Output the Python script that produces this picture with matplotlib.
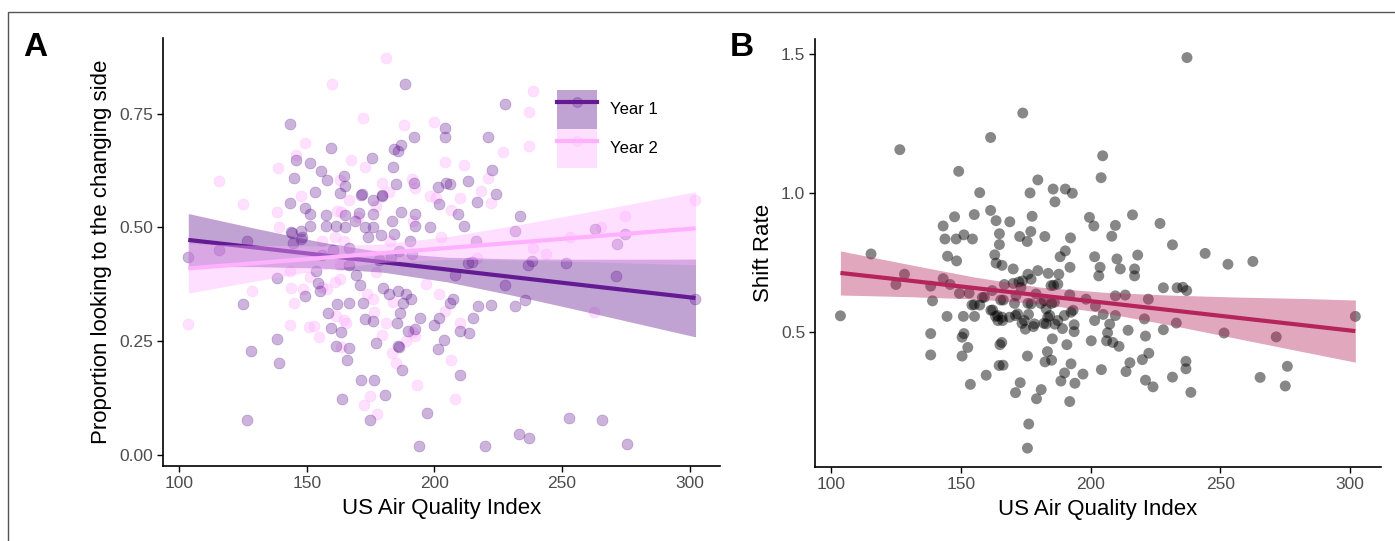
import matplotlib
matplotlib.use("Agg")
import matplotlib.pyplot as plt
from matplotlib.patches import Patch, Rectangle
from matplotlib.lines import Line2D

plt.rcParams['font.family'] = ['Liberation Sans', 'DejaVu Sans']

# ---------------- Panel A data ----------------
y1_pts = [
    (103.6,0.436),(115.8,0.451),(125.2,0.332),(126.6,0.078),(128.2,0.229),(126.8,0.471),
    (138.3,0.256),(139.2,0.202),(138.5,0.389),(143.3,0.728),(143.5,0.554),(144.4,0.488),
    (145.0,0.609),(145.7,0.648),(144.6,0.465),(144.0,0.490),(147.9,0.493),(147.9,0.474),
    (148.0,0.478),(149.5,0.543),(149.3,0.350),(151.4,0.530),(151.3,0.642),(151.2,0.504),
    (153.2,0.577),(153.8,0.404),(154.6,0.379),(155.4,0.623),(155.2,0.360),(157.4,0.527),
    (157.5,0.504),(157.9,0.605),(158.3,0.312),(159.4,0.279),(159.7,0.675),(161.3,0.504),
    (161.7,0.331),(161.6,0.240),(163.1,0.576),(163.3,0.271),(163.8,0.124),(164.7,0.612),
    (165.1,0.591),(165.1,0.527),(165.1,0.500),(165.9,0.208),(166.5,0.236),(166.4,0.333),
    (166.5,0.455),(166.5,0.418),(168.9,0.515),(169.2,0.395),(170.5,0.531),(171.0,0.374),
    (171.2,0.572),(171.7,0.573),(172.1,0.333),(171.2,0.164),(172.7,0.299),(172.7,0.502),
    (174.0,0.478),(174.9,0.077),(175.7,0.652),(175.9,0.561),(175.9,0.530),(176.0,0.295),
    (176.3,0.164),(177.0,0.246),(176.0,0.500),(178.4,0.429),(179.1,0.483),(179.3,0.570),
    (179.6,0.571),(179.9,0.368),(180.8,0.133),(182.2,0.354),(183.3,0.515),(183.8,0.632),
    (184.0,0.485),(184.9,0.596),(184.2,0.673),(185.8,0.668),(185.8,0.361),(185.9,0.239),
    (185.4,0.290),(186.4,0.312),(187.1,0.681),(187.1,0.533),(187.2,0.187),(187.9,0.335),
    (188.5,0.815),(189.0,0.354),(189.7,0.273),(190.5,0.470),(191.0,0.343),(191.9,0.698),
    (192.1,0.598),(192.4,0.530),(192.4,0.504),(192.3,0.276),(193.9,0.019),(194.2,0.301),
    (197.1,0.093),(198.2,0.500),(199.8,0.286),(201.6,0.234),(201.6,0.588),(202.0,0.552),
    (201.8,0.300),(203.7,0.253),(204.0,0.719),(204.0,0.698),(204.7,0.598),(206.0,0.595),
    (206.1,0.335),(207.2,0.342),(209.4,0.530),(209.9,0.175),(210.2,0.273),(211.5,0.504),
    (213.3,0.602),(213.4,0.269),(215.1,0.302),(216.9,0.555),(217.1,0.328),(219.8,0.019),
    (220.9,0.698),(222.3,0.330),(222.7,0.627),(224.1,0.573),(227.7,0.770),(227.6,0.374),
    (231.7,0.327),(231.7,0.493),(233.5,0.525),(233.1,0.047),(235.6,0.341),(236.7,0.418),
    (238.1,0.427),(237.1,0.038),(251.5,0.422),(252.9,0.081),(262.8,0.496),(265.5,0.077),
    (271.4,0.464),(271.3,0.394),(274.8,0.485),(275.4,0.025),(302.3,0.342),
    (155.8,0.440),(186.3,0.448),(191.4,0.442),(160.3,0.450),(183.1,0.436),(216.4,0.470),
    (207.9,0.395),(213.3,0.421),(214.7,0.425),(186.2,0.237),
]
y2_pts = [
    (103.6,0.287),(115.8,0.603),(125.2,0.552),(128.4,0.361),(138.5,0.534),(138.8,0.630),
    (139.2,0.500),(143.3,0.286),(143.4,0.405),(145.0,0.333),(144.0,0.368),(145.8,0.659),
    (147.7,0.570),(149.5,0.686),(148.6,0.365),(150.7,0.282),(151.2,0.390),(152.9,0.284),
    (154.7,0.260),(158.1,0.365),(160.0,0.815),(161.0,0.478),(161.8,0.537),(161.6,0.306),
    (162.9,0.387),(163.2,0.605),(163.3,0.534),(163.6,0.237),(164.6,0.297),(165.5,0.290),
    (167.5,0.648),(166.6,0.561),(171.9,0.740),(172.7,0.632),(172.3,0.109),(174.9,0.129),
    (177.7,0.091),(176.3,0.314),(179.5,0.263),(179.6,0.597),(180.9,0.871),(181.0,0.289),
    (182.3,0.577),(183.4,0.224),(183.8,0.337),(185.1,0.202),(188.0,0.725),(188.8,0.251),
    (191.4,0.606),(192.4,0.587),(192.3,0.262),(193.2,0.153),(196.9,0.376),(198.2,0.568),
    (199.8,0.732),(200.7,0.564),(201.8,0.354),(204.0,0.643),(204.1,0.316),(206.4,0.539),
    (206.7,0.208),(208.2,0.124),(209.9,0.290),(210.2,0.564),(211.5,0.637),(218.4,0.580),
    (220.9,0.609),(222.3,0.553),(226.9,0.666),(237.1,0.754),(237.1,0.678),(238.5,0.800),
    (243.9,0.442),(253.0,0.480),(262.5,0.315),(265.4,0.500),(274.6,0.524),(302.0,0.561),
    (155.8,0.369),(161.2,0.380),(173.7,0.354),(176.0,0.342),(191.7,0.271),(216.9,0.433),
    (182.7,0.470),(170.1,0.523),(177.3,0.546),(191.7,0.515),(155.8,0.470),(163.0,0.418),
    (177.3,0.403),(202.5,0.478),(238.5,0.455),(164.6,0.470),
]
aqi_y1 = [p[0] for p in y1_pts]
prop_y1 = [p[1] for p in y1_pts]
aqi_y2 = [p[0] for p in y2_pts]
prop_y2 = [p[1] for p in y2_pts]

# Fitted lines and confidence bands
fitA_x  = [103.6, 130, 155, 180, 205, 230, 255, 280, 302.3]
fit1_y  = [0.4725,0.4558,0.4397,0.4236,0.4075,0.3914,0.3753,0.3592,0.3450]
fit1_lo = [0.4145,0.4138,0.4109,0.4016,0.3804,0.3517,0.3205,0.2883,0.2596]
fit1_hi = [0.5305,0.4978,0.4685,0.4456,0.4346,0.4311,0.4301,0.4301,0.4304]
fit2_y  = [0.4100,0.4215,0.4326,0.4437,0.4548,0.4659,0.4770,0.4881,0.4979]
fit2_lo = [0.3556,0.3823,0.4060,0.4236,0.4299,0.4289,0.4256,0.4215,0.4176]
fit2_hi = [0.4644,0.4607,0.4592,0.4638,0.4797,0.5029,0.5284,0.5547,0.5782]

# ---------------- Panel B data ----------------
b_pts = [
    (103.5,0.557),(115.3,0.780),(126.4,1.156),(124.9,0.670),(128.2,0.707),(138.3,0.493),
    (138.3,0.416),(139.0,0.611),(138.3,0.664),(143.1,0.881),(143.8,0.834),(144.8,0.772),
    (144.6,0.555),(143.1,0.691),(145.8,0.670),(147.5,0.914),(148.1,0.834),(148.3,0.755),
    (149.1,1.078),(149.4,0.638),(151.1,0.849),(150.9,0.555),(150.4,0.480),(151.1,0.493),
    (150.4,0.412),(152.6,0.443),(153.1,0.639),(154.4,0.834),(155.1,0.922),(154.2,0.596),
    (155.2,0.555),(153.6,0.310),(157.2,1.001),(157.2,0.596),(158.2,0.623),(159.7,0.343),
    (161.4,1.200),(161.4,0.937),(161.5,0.577),(162.0,0.648),(163.0,0.777),(163.5,0.900),
    (163.5,0.747),(163.3,0.555),(164.2,0.540),(164.8,0.853),(164.8,0.814),(165.3,0.614),
    (165.0,0.453),(165.7,0.461),(164.7,0.378),(166.2,0.379),(165.8,0.739),(166.7,0.670),
    (165.8,0.552),(168.8,0.896),(168.7,0.552),(170.1,0.726),(170.1,0.674),(170.6,0.602),
    (171.0,0.280),(171.0,0.558),(172.6,0.843),(172.8,0.316),(172.3,0.679),(173.8,1.288),
    (173.5,0.530),(174.8,0.509),(175.5,0.825),(175.8,0.707),(175.8,0.602),(176.0,0.562),
    (175.6,0.412),(176.1,0.167),(175.6,0.080),(176.6,1.000),(176.9,0.861),(177.4,0.916),
    (177.9,0.518),(179.1,0.258),(179.6,1.047),(179.6,0.720),(180.9,0.291),(180.8,0.602),
    (181.9,0.530),(182.3,0.843),(182.4,0.391),(183.3,0.428),(183.6,0.710),(184.2,0.558),
    (184.9,0.397),(184.9,0.602),(185.7,0.667),(185.2,0.474),(185.5,1.014),(186.2,0.968),
    (186.2,0.527),(187.7,0.707),(188.2,0.770),(188.5,0.322),(189.1,0.511),(190.2,0.791),
    (189.9,0.351),(190.2,1.014),(190.8,0.453),(191.9,0.633),(192.2,0.838),(192.0,0.732),
    (192.4,0.384),(191.9,0.248),(192.9,0.999),(193.2,0.577),(193.6,0.525),(193.9,0.314),
    (193.6,0.500),(197.0,0.347),(198.2,0.617),(199.5,0.912),(200.2,0.467),(201.2,0.881),
    (201.5,0.770),(201.5,0.540),(201.8,0.592),(203.6,0.732),(203.1,0.701),(204.0,1.055),
    (204.6,1.134),(204.1,0.363),(204.8,0.562),(206.1,0.467),(206.5,0.496),(207.3,0.527),
    (208.1,0.844),(208.5,0.461),(209.5,0.883),(209.5,0.629),(209.5,0.558),(210.1,0.762),
    (210.9,0.447),(211.4,0.726),(213.3,0.632),(213.6,0.356),(214.4,0.505),(215.1,0.388),
    (216.1,0.921),(216.9,0.726),(216.9,0.701),(218.1,0.776),(219.9,0.399),(220.7,0.546),
    (221.1,0.484),(221.1,0.325),(222.2,0.617),(222.4,0.422),(224.0,0.301),(226.7,0.890),
    (228.0,0.658),(228.0,0.507),(231.5,0.813),(231.5,0.336),(233.0,0.531),(233.3,0.658),
    (235.5,0.660),(236.7,0.393),(236.7,0.366),(237.0,0.648),(237.1,1.488),(238.6,0.281),
    (244.1,0.782),(251.4,0.495),(252.9,0.743),(262.5,0.753),(265.3,0.335),(271.5,0.481),
    (275.0,0.304),(275.8,0.375),(302.0,0.555),
    (164.1,0.558),(166.0,0.540),(171.8,0.564),(174.4,0.540),(178.3,0.528),(182.8,0.528),
    (183.4,0.552),(187.3,0.540),(189.8,0.558),(192.4,0.570),(177.0,0.600),(182.8,0.582),
    (186.0,0.606),(178.9,0.636),(182.1,0.612),(184.7,0.666),(187.3,0.671),(173.1,0.659),
    (173.7,0.683),(177.0,0.689),(171.2,0.630),(166.3,0.614),(162.2,0.578),(159.0,0.624),
    (155.1,0.597),
]
aqi_b = [p[0] for p in b_pts]
shift_b = [p[1] for p in b_pts]

fitB_x  = [103.5, 130, 155, 180, 205, 230, 255, 280, 302.0]
fitB_y  = [0.7115,0.6840,0.6575,0.6310,0.6046,0.5782,0.5517,0.5253,0.5020]
fitB_lo = [0.632,0.626,0.618,0.601,0.568,0.525,0.478,0.431,0.390]
fitB_hi = [0.791,0.742,0.697,0.661,0.642,0.632,0.625,0.620,0.614]

xticks = [100, 150, 200, 250, 300]
yticksA = [0.00, 0.25, 0.50, 0.75]
yticksB = [0.5, 1.0, 1.5]

C1 = '#641A93'
C2 = '#FFB0FF'
CB = '#B5245A'

W, H = 1395, 541
fig = plt.figure(figsize=(W/100, H/100), dpi=100)

def style(ax):
    for s in ['top', 'right']:
        ax.spines[s].set_visible(False)
    for s in ['left', 'bottom']:
        ax.spines[s].set_linewidth(1.2)
        ax.spines[s].set_color('black')
    ax.tick_params(axis='both', direction='out', length=4, width=1.0,
                   color='black', labelsize=12.5, labelcolor='#4D4D4D', pad=3)
    ax.set_xticks(xticks)
    ax.set_xlim(93.7, 311.9)
    ax.set_xlabel('US Air Quality Index', fontsize=16, labelpad=5)

# Panel A
axA = fig.add_axes([163/W, 1-466/H, (720-163)/W, (466-38)/H])
style(axA)
axA.scatter(aqi_y2, prop_y2, s=62, color=C2, alpha=0.38, edgecolors=C2, linewidths=0.5, zorder=2)
axA.scatter(aqi_y1, prop_y1, s=62, color=C1, alpha=0.33, edgecolors=C1, linewidths=0.5, zorder=2)
axA.fill_between(fitA_x, fit1_lo, fit1_hi, color=C1, alpha=0.4, linewidth=0, zorder=3)
axA.plot(fitA_x, fit1_y, color=C1, lw=3, zorder=3, solid_capstyle='butt')
axA.fill_between(fitA_x, fit2_lo, fit2_hi, color=C2, alpha=0.4, linewidth=0, zorder=3)
axA.plot(fitA_x, fit2_y, color=C2, lw=3, zorder=3, solid_capstyle='butt')
axA.set_ylim(-0.024, 0.916)
axA.set_yticks(yticksA)
axA.set_yticklabels(['0.00', '0.25', '0.50', '0.75'])
axA.set_xticklabels([str(t) for t in xticks])
axA.set_ylabel('Proportion looking to the changing side', fontsize=16, labelpad=5)

h1 = (Patch(facecolor=C1, alpha=0.4, linewidth=0),
      Line2D([], [], color=C1, lw=3, marker='o', markersize=7,
             markerfacecolor=(0.39, 0.10, 0.58, 0.25), markeredgecolor=(0.39, 0.10, 0.58, 0.25)))
h2 = (Patch(facecolor=C2, alpha=0.4, linewidth=0),
      Line2D([], [], color=C2, lw=3, marker='o', markersize=7,
             markerfacecolor=(1, 0.69, 1, 0.25), markeredgecolor=(1, 0.69, 1, 0.25)))
leg = axA.legend([h1, h2], ['Year 1', 'Year 2'], loc='upper left',
                 bbox_to_anchor=((557-163)/557, (466-90)/428), frameon=False,
                 fontsize=12, handlelength=2.4, handleheight=3.22, labelspacing=0,
                 handletextpad=0.78, borderpad=0, borderaxespad=0)

# Panel B
axB = fig.add_axes([815/W, 1-467/H, (1381-815)/W, (467-39)/H])
style(axB)
axB.scatter(aqi_b, shift_b, s=62, color='black', alpha=0.47, edgecolors='none',
            linewidths=0, zorder=2)
axB.fill_between(fitB_x, fitB_lo, fitB_hi, color=CB, alpha=0.4, linewidth=0, zorder=3)
axB.plot(fitB_x, fitB_y, color=CB, lw=3, zorder=3, solid_capstyle='butt')
axB.set_ylim(0.012, 1.555)
axB.set_yticks(yticksB)
axB.set_yticklabels(['0.5', '1.0', '1.5'])
axB.set_xticklabels([str(t) for t in xticks])
axB.set_ylabel('Shift Rate', fontsize=16, labelpad=5)

# Panel letters
fig.text(23/W, 1-56/H, 'A', fontsize=24, fontweight='bold', ha='left', va='baseline')
fig.text(730/W, 1-56/H, 'B', fontsize=24, fontweight='bold', ha='left', va='baseline')

# outer frame
fig.patches.append(Rectangle((8/W, -0.05), 1.2, 1-12/H+0.05, transform=fig.transFigure,
                             fill=False, edgecolor='#555555', linewidth=1.0, clip_on=False))

fig.savefig('out.png', dpi=100)
